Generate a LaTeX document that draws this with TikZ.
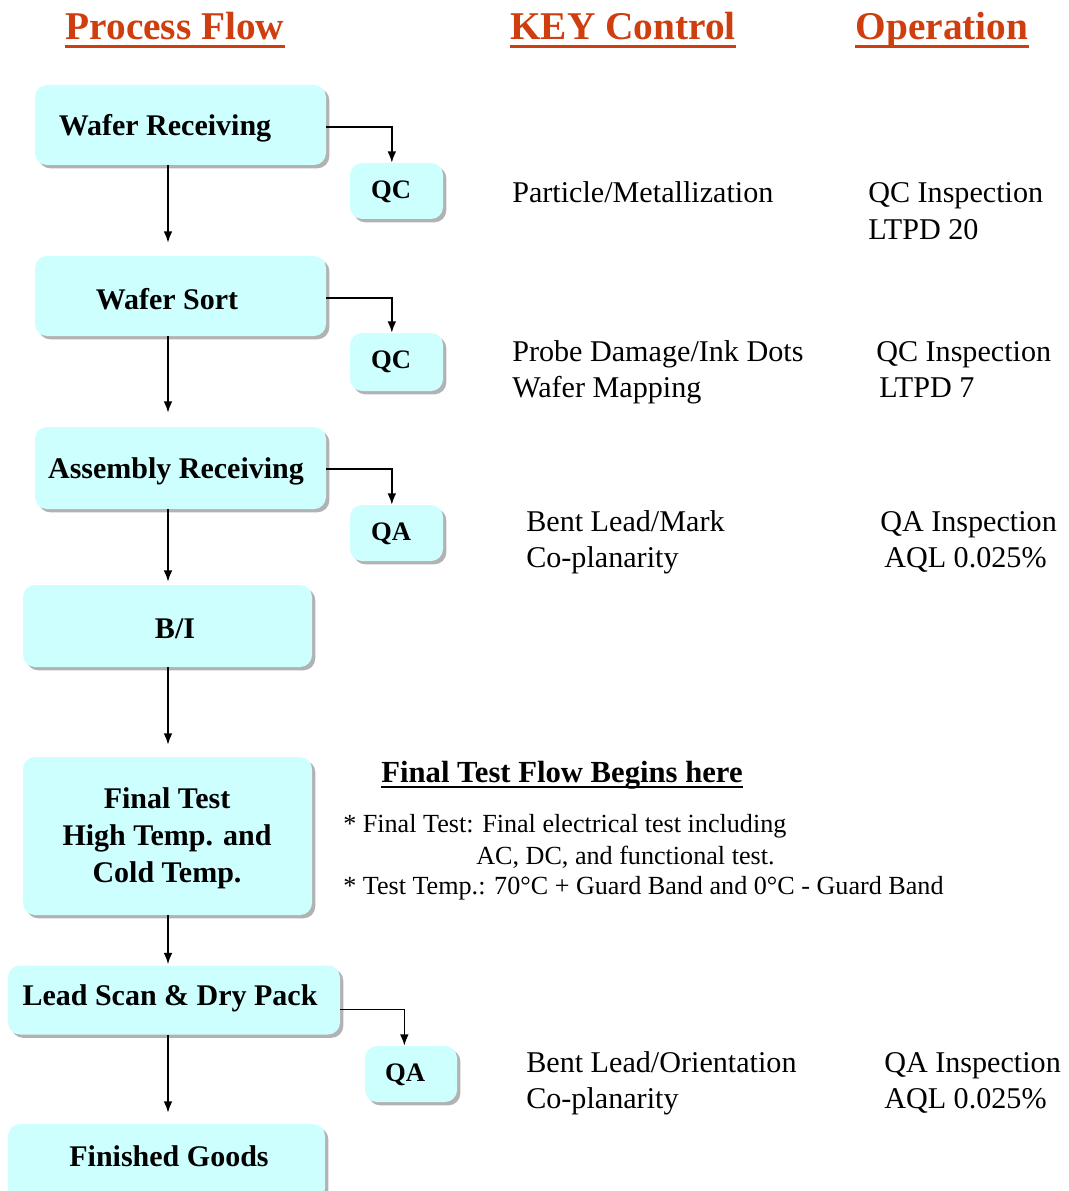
\documentclass[tikz,border=0pt]{standalone}
\usepackage{fontspec}
\setmainfont{Liberation Serif}
\usetikzlibrary{shadows,arrows.meta,calc}
\definecolor{boxfill}{RGB}{206,255,255}
\definecolor{hdr}{RGB}{206,62,14}
\begin{document}
\begin{tikzpicture}[x=0.75pt,y=-0.75pt,
  pbox/.style={fill=boxfill, rounded corners=9pt,
    drop shadow={shadow xshift=2.5pt, shadow yshift=-2.5pt, fill=black!55, opacity=0.55},
    inner sep=0pt},
  qbox/.style={pbox, minimum width=69.75pt, minimum height=42pt},
  lbl/.style={font=\bfseries\fontsize{22.5}{27.75}\selectfont, align=center, inner sep=0pt},
  qlbl/.style={font=\bfseries\fontsize{20}{24}\selectfont, inner sep=0pt},
  flow/.style={line width=1.2pt, -{Latex[length=8.5pt,width=6.5pt]}},
  hdrtxt/.style={font=\bfseries\fontsize{29.5}{33}\selectfont, text=hdr, inner sep=0pt, anchor=base},
  hline/.style={draw=hdr, line width=2.2pt},
  keytxt/.style={font=\fontsize{22.6}{27}\selectfont, inner sep=0pt, anchor=base west},
  notetxt/.style={font=\fontsize{19.6}{23}\selectfont, inner sep=0pt, anchor=base west}
]
\useasboundingbox (0,0) rectangle (1069,1191);
\fill[white] (0,0) rectangle (1069,1191);

% headers
\node[hdrtxt] (h1) at (175,40) {Process Flow};
\node[hdrtxt] (h2) at (623,40) {KEY Control};
\node[hdrtxt] (h3) at (942,40) {Operation};
\foreach \h in {h1,h2,h3}{
  \draw[hline] ([yshift=-5pt]\h.base west) -- ([yshift=-5pt]\h.base east);
}

% process boxes
\node[pbox, minimum width=218.25pt, minimum height=60pt] (wr) at (180.5,125) {};
\node[lbl] (wrt) at (165,128) {Wafer Receiving};
\node[qbox] (qc1) at (396.5,191) {};
\node[qlbl] (qc1t) at (391,192) {QC};
\node[pbox, minimum width=218.25pt, minimum height=60pt] (ws) at (180.5,296) {};
\node[lbl] (wst) at (167,299) {Wafer Sort};
\node[qbox, minimum height=43.5pt] (qc2) at (396.5,362) {};
\node[qlbl] (qc2t) at (391,362) {QC};
\node[pbox, minimum width=218.25pt, minimum height=61.5pt] (ar) at (180.5,468) {};
\node[lbl] (art) at (176,471) {Assembly Receiving};
\node[qbox] (qa1) at (396.5,533) {};
\node[qlbl] (qa1t) at (391,534) {QA};
\node[pbox, minimum width=216.75pt, minimum height=61.5pt] (bi) at (167.5,626) {};
\node[lbl] (bit) at (175,629) {B/I};
\node[pbox, minimum width=216.75pt, minimum height=118.5pt] (ft) at (167.5,836) {};
\node[lbl] (ftt1) at (167,838) {Final Test\\High Temp. and\\Cold Temp.};
\node[pbox, minimum width=249pt, minimum height=51.75pt] (ls) at (174,1000) {};
\node[lbl] (lst) at (170,998) {Lead Scan \& Dry Pack};
\node[qbox, minimum width=69pt] (qa2) at (411,1074) {};
\node[qlbl] (qa2t) at (405,1075) {QA};
\node[pbox, minimum width=237.75pt, minimum height=57pt] (fg) at (166.5,1162) {};
\node[lbl] (fgt) at (169,1156) {Finished Goods};

% connectors
\coordinate (spine) at (168,0);
\draw[flow, shorten >=9.75pt] (wr.south -| spine) -- (ws.north -| spine);
\draw[flow, shorten >=10.5pt] (ws.south -| spine) -- (ar.north -| spine);
\draw[flow, shorten >=2.25pt] (ar.south -| spine) -- (bi.north -| spine);
\draw[flow, shorten >=9pt] (bi.south -| spine) -- (ft.north -| spine);
\draw[flow, shorten >=0.75pt] (ft.south -| spine) -- (ls.north -| spine);
\draw[flow, shorten >=8.25pt] (ls.south -| spine) -- (fg.north -| spine);

\draw[flow] ([yshift=-1.5pt]wr.east) -| ([xshift=-3.5pt]qc1.north);
\draw[flow] ([yshift=-1.5pt]ws.east) -| ([xshift=-3.5pt]qc2.north);
\draw[flow] ([yshift=-0.75pt]ar.east) -| ([xshift=-3.5pt]qa1.north);
\draw[flow] ([yshift=-7pt]ls.east) -| ([xshift=-5pt]qa2.north);

% key control
\node[keytxt] (k1) at (512,203) {Particle/Metallization};
\node[keytxt] (k2a) at (512,361) {Probe Damage/Ink Dots};
\node[keytxt] (k2b) at (512,397) {Wafer Mapping};
\node[keytxt] (k3a) at (526,531) {Bent Lead/Mark};
\node[keytxt] (k3b) at (526,567) {Co-planarity};
\node[keytxt] (k4a) at (526,1072) {Bent Lead/Orientation};
\node[keytxt] (k4b) at (526,1108) {Co-planarity};

% operation
\node[keytxt] (o1a) at (868,203) {QC Inspection};
\node[keytxt] (o1b) at (868,239) {LTPD 20};
\node[keytxt] (o2a) at (876,361) {QC Inspection};
\node[keytxt] (o2b) at (879,397) {LTPD 7};
\node[keytxt] (o3a) at (880,531) {QA Inspection};
\node[keytxt] (o3b) at (884,567) {AQL 0.025\%};
\node[keytxt] (o4a) at (884,1072) {QA Inspection};
\node[keytxt] (o4b) at (884,1108) {AQL 0.025\%};

% final test notes
\node[font=\bfseries\fontsize{23}{27}\selectfont, inner sep=0pt, anchor=base] (ftt) at (562,782) {Final Test Flow Begins here};
\draw[line width=1.3pt] ([yshift=-3.5pt]ftt.base west) -- ([yshift=-3.5pt]ftt.base east);
\node[notetxt] (n1) at (343,832) {* Final Test: Final electrical test including};
\node[notetxt] (n2) at (476,864) {AC, DC, and functional test.};
\node[notetxt] (n3) at (343,894) {* Test Temp.: 70°C + Guard Band and 0°C - Guard Band};
\end{tikzpicture}
\end{document}
